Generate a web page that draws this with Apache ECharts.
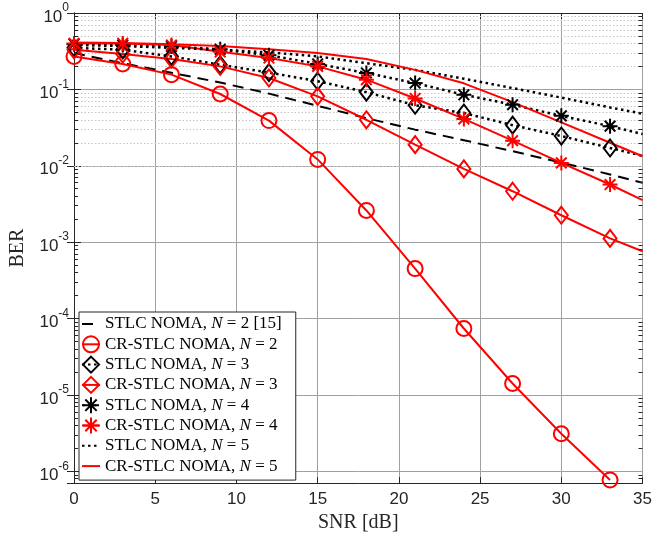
<!DOCTYPE html>
<html>
<head>
<meta charset="utf-8">
<script src="https://cdn.jsdelivr.net/npm/echarts@6/dist/echarts.min.js"></script>
<style>
  html, body { margin: 0; padding: 0; background: #fff; }
  #chart { width: 655px; height: 538px; }
</style>
</head>
<body>
<div id="chart"></div>
<script>
// SNR points (markers every 3 dB, lines run on to 35 dB)
var snr = [0, 3, 6, 9, 12, 15, 18, 21, 24, 27, 30, 33, 35];

// BER
var berStlc2 = [0.30, 0.22, 0.165, 0.123, 0.088, 0.061, 0.042, 0.0297, 0.0216, 0.0155, 0.011, 0.0077, 0.006];
var berCr2 = [0.27, 0.215, 0.156, 0.087, 0.039, 0.0121, 0.0026, 4.5e-4, 7.4e-5, 1.41e-5, 3.1e-6, 7.7e-7];
var berStlc3 = [0.35, 0.33, 0.27, 0.21, 0.166, 0.128, 0.092, 0.062, 0.049, 0.034, 0.0245, 0.0171, 0.0135];
var berCr3 = [0.33, 0.29, 0.25, 0.2, 0.141, 0.081, 0.040, 0.0189, 0.0091, 0.00464, 0.00225, 0.00112, 7.6e-4];
var berStlc4 = [0.39, 0.38, 0.365, 0.335, 0.28, 0.215, 0.164, 0.121, 0.085, 0.063, 0.045, 0.033, 0.026];
var berCr4 = [0.40, 0.40, 0.38, 0.31, 0.257, 0.2, 0.134, 0.076, 0.041, 0.0213, 0.0109, 0.00568, 0.00354];
var berStlc5 = [0.38, 0.37, 0.35, 0.33, 0.305, 0.27, 0.22, 0.18, 0.138, 0.104, 0.078, 0.058, 0.048];
var berCr5 = [0.41, 0.405, 0.39, 0.37, 0.335, 0.30, 0.25, 0.18, 0.12, 0.068, 0.037, 0.020, 0.0133];

var names = [
  'STLC NOMA, N = 2 [15]',
  'CR-STLC NOMA, N = 2',
  'STLC NOMA, N = 3',
  'CR-STLC NOMA, N = 3',
  'STLC NOMA, N = 4',
  'CR-STLC NOMA, N = 4',
  'STLC NOMA, N = 5',
  'CR-STLC NOMA, N = 5'
];

var xTicks = [0, 5, 10, 15, 20, 25, 30, 35];
var yDecades = [1e-7, 1e-6, 1e-5, 1e-4, 1e-3, 1e-2, 1e-1, 1];
var minorSteps = [2, 3, 4, 5, 6, 7, 8, 9];
var yMin = 7e-7;

var AX = '#262626';
var RED = '#ff0000';
var sans = 'Liberation Sans';
var serif = 'Liberation Serif';
var asterisk = 'path://M10 0V20M0 10H20M2.9 2.9L17.1 17.1M2.9 17.1L17.1 2.9';

var minorVals = [];
yDecades.forEach(function (d) {
  if (d >= 1) return;
  minorSteps.forEach(function (m) {
    var v = d * m;
    if (v >= yMin) minorVals.push(v);
  });
});

function pairs(ys, marked) {
  return ys.map(function (y, i) {
    var p = [snr[i], y];
    if (marked && snr[i] % 3 !== 0) return { value: p, symbol: 'none' };
    return p;
  });
}

function lineSeries(name, ys, color, lineType, width, symbol, size) {
  return {
    name: name,
    type: 'line',
    data: pairs(ys, !!symbol),
    symbol: symbol || 'none',
    symbolSize: size || 0,
    showAllSymbol: true,
    lineStyle: { color: color, width: width, type: lineType, cap: 'butt' },
    itemStyle: { color: 'rgba(0,0,0,0)', borderColor: color, borderWidth: 2 },
    emphasis: { disabled: true },
    animation: false
  };
}

var series = [
  lineSeries(names[0], berStlc2, '#000', [11, 7], 2),
  lineSeries(names[1], berCr2, RED, 'solid', 2, 'circle', 15),
  lineSeries(names[2], berStlc3, '#000', [2.5, 3.5], 2.5, 'diamond', [13, 17]),
  lineSeries(names[3], berCr3, RED, 'solid', 2, 'diamond', [13, 17]),
  lineSeries(names[4], berStlc4, '#000', [2.5, 3.5], 2.5, asterisk, 15),
  lineSeries(names[5], berCr4, RED, 'solid', 2, asterisk, 15),
  lineSeries(names[6], berStlc5, '#000', [2.5, 3.5], 2.5),
  lineSeries(names[7], berCr5, RED, 'solid', 2)
];

// minor dotted grid lines of the log axis
series[0].markLine = {
  silent: true,
  z: 1,
  symbol: ['none', 'none'],
  label: { show: false },
  emphasis: { disabled: true },
  lineStyle: { color: '#c4c4c4', width: 1, type: [1.5, 2] },
  data: minorVals.map(function (v) {
    return { yAxis: v, lineStyle: { color: '#c4c4c4', width: 1, type: [1.5, 2] } };
  })
};

// minor ticks on both log axes (inside)
series[1].markLine = {
  silent: true,
  z: 6,
  symbol: ['none', 'none'],
  label: { show: false },
  emphasis: { disabled: true },
  lineStyle: { color: AX, width: 1, type: 'solid' },
  data: [].concat(
    minorVals.map(function (v) { return [{ coord: [0, v] }, { coord: [0.25, v] }]; }),
    minorVals.map(function (v) { return [{ coord: [34.75, v] }, { coord: [35, v] }]; })
  )
};

var plainLine = { 0: 1, 6: 1, 7: 1 };
var legendData = names.map(function (n, i) {
  return plainLine[i] ? { name: n, itemStyle: { opacity: 0 } } : { name: n };
});

var option = {
  backgroundColor: '#fff',
  animation: false,
  grid: { left: 72, right: 8, top: 13, bottom: 54 },
  legend: {
    orient: 'vertical',
    left: 79,
    top: 312,
    padding: [3, 14, 5, 2],
    itemWidth: 18,
    itemHeight: 20,
    itemGap: 2.3,
    backgroundColor: '#fff',
    borderColor: AX,
    borderWidth: 1,
    borderRadius: 0,
    selectedMode: false,
    data: legendData,
    formatter: function (n) {
      return n.replace(', N = ', ', {i|N} = ');
    },
    textStyle: {
      fontFamily: serif,
      fontSize: 17,
      color: '#000',
      rich: { i: { fontFamily: serif, fontSize: 17, fontStyle: 'italic', color: '#000' } }
    }
  },
  xAxis: [{
    type: 'value', min: 0, max: 35, interval: 5, position: 'bottom',
    axisLine: { lineStyle: { color: AX, width: 1 } },
    axisTick: { inside: true, length: 6, lineStyle: { color: AX } },
    axisLabel: { color: AX, fontFamily: sans, fontSize: 17, margin: 8 },
    splitLine: { show: true, lineStyle: { color: '#a0a0a0', width: 1 } },
    name: 'SNR [dB]', nameLocation: 'middle', nameGap: 27,
    nameTextStyle: { fontFamily: serif, fontSize: 20, color: AX }
  }, {
    type: 'value', min: 0, max: 35, interval: 5, position: 'top',
    axisLine: { lineStyle: { color: AX, width: 1 } },
    axisTick: { inside: true, length: 6, lineStyle: { color: AX } },
    axisLabel: { show: false },
    splitLine: { show: false }
  }],
  yAxis: [{
    type: 'log', logBase: 10, min: yMin, max: 1, position: 'left',
    axisLine: { lineStyle: { color: AX, width: 1 } },
    axisTick: { inside: true, length: 7, lineStyle: { color: AX } },
    axisLabel: {
      color: AX, fontFamily: sans, margin: 5, showMaxLabel: true,
      padding: [8, 0, 0, 0],
      formatter: function (v) {
        var l = Math.log10(v), e = Math.round(l);
        if (Math.abs(l - e) > 1e-6) return '';
        return '{b|10}{s|' + e + '}';
      },
      rich: {
        b: { fontFamily: sans, fontSize: 17, lineHeight: 30, color: AX },
        s: { fontFamily: sans, fontSize: 12, lineHeight: 12, verticalAlign: 'top', color: AX }
      }
    },
    splitLine: { show: true, lineStyle: { color: '#a0a0a0', width: 1 } },
    name: 'BER', nameLocation: 'middle', nameGap: 46,
    nameTextStyle: { fontFamily: serif, fontSize: 20, color: AX }
  }, {
    type: 'log', logBase: 10, min: yMin, max: 1, position: 'right',
    axisLine: { lineStyle: { color: AX, width: 1 } },
    axisTick: { inside: true, length: 7, lineStyle: { color: AX } },
    axisLabel: { show: false },
    splitLine: { show: false }
  }],
  series: series
};

var chart = echarts.init(document.getElementById('chart'));
chart.setOption(option);
</script>
</body>
</html>
